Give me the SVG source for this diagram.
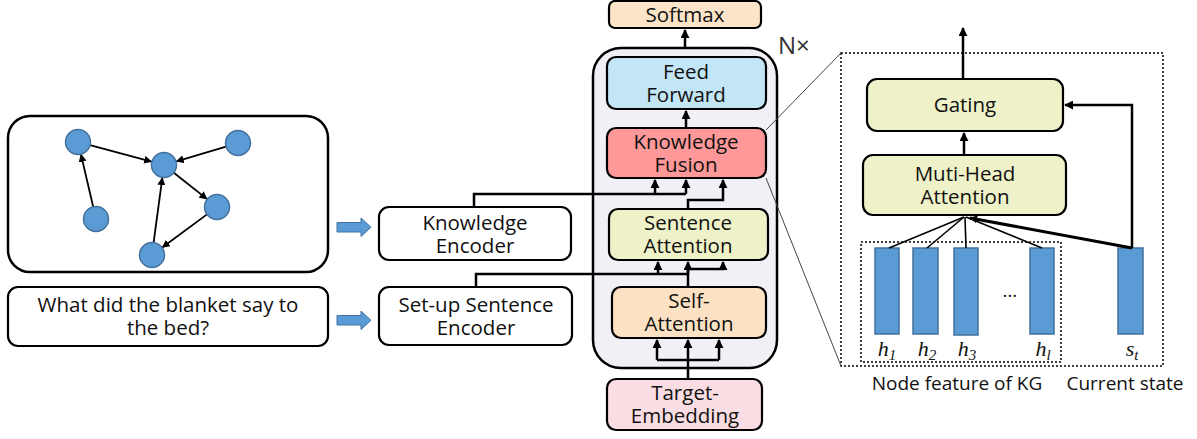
<svg xmlns="http://www.w3.org/2000/svg" width="1197" height="439" viewBox="0 0 1197 439">
<defs>
<marker id="ah" viewBox="0 0 10 10" refX="9" refY="5" markerWidth="9" markerHeight="9" markerUnits="userSpaceOnUse" orient="auto"><path d="M0,0 L10,5 L0,10 Z" fill="#000"/></marker>
<marker id="ahs" viewBox="0 0 10 10" refX="9" refY="5" markerWidth="8" markerHeight="8" markerUnits="userSpaceOnUse" orient="auto"><path d="M0,0 L10,5 L0,10 Z" fill="#000"/></marker>
<style>
.box{stroke:#000;stroke-width:2.2}
.t{font-family:"Open Sans","Noto Sans","DejaVu Sans",sans-serif;font-size:20.5px;fill:#111;text-anchor:middle}
.lab{font-family:"Open Sans","Noto Sans","DejaVu Sans",sans-serif;font-size:19px;fill:#111;text-anchor:middle}
.m{font-family:"Liberation Serif","DejaVu Serif",serif;font-style:italic;font-size:22px;fill:#111;text-anchor:middle}
.c{stroke:#000;stroke-width:2.5;fill:none}
.g{stroke:#000;stroke-width:1.8;fill:none}
.nd{fill:#5B9BD5;stroke:#41719C;stroke-width:1.5}
.bar{fill:#5B9BD5;stroke:#41719C;stroke-width:1.5}
.dot{fill:none;stroke:#000;stroke-width:1.5;stroke-dasharray:2 2}
.blk{fill:#5B9BD5;stroke:#41719C;stroke-width:1}
</style>
</defs>

<g id="encoder-stack">
<rect x="593" y="48" width="184" height="320" rx="28" fill="#F2F0F7" stroke="#000" stroke-width="2.5"/>
<text x="778" y="54" font-family="Open Sans, Noto Sans, sans-serif" font-size="24" fill="#333">N×</text>
</g>

<g id="kg-graph">
<rect x="8" y="116" width="320" height="156" rx="22" fill="#fff" stroke="#000" stroke-width="2.5"/>
<g id="kg-edges">
<line class="g" x1="90" y1="145.2" x2="151.4" y2="161.6" marker-end="url(#ahs)"/>
<line class="g" x1="226" y1="146.6" x2="176.5" y2="161.3" marker-end="url(#ahs)"/>
<line class="g" x1="173.8" y1="172.8" x2="206.8" y2="198.9" marker-end="url(#ahs)"/>
<line class="g" x1="207" y1="214.4" x2="162.5" y2="247.3" marker-end="url(#ahs)"/>
<line class="g" x1="153.6" y1="242.6" x2="162.3" y2="177.9" marker-end="url(#ahs)"/>
<line class="g" x1="93.2" y1="206.8" x2="81" y2="154.6" marker-end="url(#ahs)"/>
</g>
<circle class="nd" cx="78" cy="142" r="12.5"/>
<circle class="nd" cx="238" cy="143" r="12.5"/>
<circle class="nd" cx="164" cy="165" r="12.5"/>
<circle class="nd" cx="217" cy="207" r="12.5"/>
<circle class="nd" cx="96" cy="219" r="12.5"/>
<circle class="nd" cx="152" cy="255" r="12.5"/>
</g>

<g id="question">
<rect class="box" x="8" y="287" width="320" height="59" rx="10" fill="#fff"/>
<text class="t" x="168" y="312">What did the blanket say to</text>
<text class="t" x="168" y="335">the bed?</text>
</g>

<g id="block-arrows">
<path class="blk" d="M337,222.5 H361 V218 L371,227.3 L361,236.5 V232 H337 Z"/>
<path class="blk" d="M337,315.5 H361 V311 L371,320.3 L361,329.5 V325 H337 Z"/>
</g>

<g id="knowledge-encoder">
<rect class="box" x="379" y="207" width="192" height="53" rx="10" fill="#fff"/>
<text class="t" x="475" y="229.5">Knowledge</text>
<text class="t" x="475" y="252.5">Encoder</text>
</g>

<g id="setup-encoder">
<rect class="box" x="379" y="287" width="193" height="58" rx="10" fill="#fff"/>
<text class="t" x="476" y="311.5">Set-up Sentence</text>
<text class="t" x="476" y="334.5">Encoder</text>
</g>

<g id="softmax">
<rect class="box" x="609" y="1" width="152" height="27" rx="6" fill="#FCE4C8"/>
<text class="t" x="685" y="21.5">Softmax</text>
</g>

<g id="feed-forward">
<rect class="box" x="607" y="57" width="159" height="52" rx="9" fill="#C3E6F6"/>
<text class="t" x="686" y="78.5">Feed</text>
<text class="t" x="686" y="101.5">Forward</text>
</g>

<g id="knowledge-fusion">
<rect class="box" x="607" y="128" width="159" height="50" rx="9" fill="#FF9999"/>
<text class="t" x="686" y="149">Knowledge</text>
<text class="t" x="686" y="172">Fusion</text>
</g>

<g id="sentence-attention">
<rect class="box" x="609" y="209" width="159" height="51" rx="9" fill="#EFF1C8"/>
<text class="t" x="688" y="230">Sentence</text>
<text class="t" x="688" y="253">Attention</text>
</g>

<g id="self-attention">
<rect class="box" x="612" y="287" width="154" height="51" rx="9" fill="#FCE2C2"/>
<text class="t" x="689" y="308">Self-</text>
<text class="t" x="689" y="331">Attention</text>
</g>

<g id="target-embedding">
<rect class="box" x="607" y="379" width="155" height="51" rx="9" fill="#F9DDE2"/>
<text class="t" x="685" y="400">Target-</text>
<text class="t" x="685" y="423">Embedding</text>
</g>

<g id="fusion-detail">
<rect class="dot" x="841" y="53" width="322" height="313"/>
<rect class="dot" x="861" y="242" width="200" height="120"/>
</g>

<g id="gating">
<rect class="box" x="867" y="79" width="196" height="52" rx="10" fill="#EFF1C8"/>
<text class="t" x="965" y="112">Gating</text>
</g>

<g id="mha">
<rect class="box" x="863" y="155" width="203" height="60" rx="10" fill="#EFF1C8"/>
<text class="t" x="965" y="180.5">Muti-Head</text>
<text class="t" x="965" y="203.5">Attention</text>
</g>

<g id="bars">
<rect class="bar" x="875" y="248" width="24" height="86"/>
<rect class="bar" x="913" y="248" width="25" height="86"/>
<rect class="bar" x="954" y="248" width="24" height="87"/>
<rect class="bar" x="1030" y="248" width="24" height="86"/>
<rect class="bar" x="1118" y="248" width="25" height="86"/>
<text class="lab" x="1010" y="297">…</text>
<text class="m" x="887" y="356">h<tspan font-size="15" dy="4">1</tspan></text>
<text class="m" x="927" y="356">h<tspan font-size="15" dy="4">2</tspan></text>
<text class="m" x="967" y="356">h<tspan font-size="15" dy="4">3</tspan></text>
<text class="m" x="1043" y="356">h<tspan font-size="15" dy="4">l</tspan></text>
<text class="m" x="1132" y="356">s<tspan font-size="15" dy="4">t</tspan></text>
<text class="lab" x="957" y="390">Node feature of KG</text>
<text class="lab" x="1125" y="390">Current state</text>
</g>

<g id="connectors">
<line x1="766" y1="130" x2="841" y2="53" stroke="#444" stroke-width="1"/>
<line x1="766" y1="178" x2="841" y2="366" stroke="#444" stroke-width="1"/>
<path class="c" d="M685,48 V30" marker-end="url(#ah)"/>
<path class="c" d="M686,128 V111" marker-end="url(#ah)"/>
<path class="c" d="M474,207 V194 H686"/>
<path class="c" d="M655,194 V180" marker-end="url(#ah)"/>
<path class="c" d="M686,194 V180" marker-end="url(#ah)"/>
<path class="c" d="M688,209 V200 H723 V180" marker-end="url(#ah)"/>
<path class="c" d="M476,287 V274 H688"/>
<path class="c" d="M658,274 V262" marker-end="url(#ah)"/>
<path class="c" d="M688,274 V262" marker-end="url(#ah)"/>
<path class="c" d="M688,287 V269 H723 V262" marker-end="url(#ah)"/>
<path class="c" d="M688,379 V340" marker-end="url(#ah)"/>
<path class="c" d="M657,360 H719"/>
<path class="c" d="M657,360 V340" marker-end="url(#ah)"/>
<path class="c" d="M719,360 V340" marker-end="url(#ah)"/>
<path class="c" d="M963,79 V28" marker-end="url(#ah)"/>
<path class="c" d="M964,155 V133" marker-end="url(#ah)"/>
<path class="c" d="M1132,248 V105 H1065" marker-end="url(#ah)"/>
<line x1="889" y1="248" x2="964" y2="217" stroke="#000" stroke-width="1.6"/>
<line x1="927" y1="248" x2="964" y2="217" stroke="#000" stroke-width="1.6"/>
<line x1="966" y1="248" x2="965" y2="217" stroke="#000" stroke-width="1.6"/>
<line x1="1042" y1="248" x2="966" y2="217" stroke="#000" stroke-width="1.6"/>
<path d="M1132,248 L970,218" stroke="#000" stroke-width="3" fill="none" marker-end="url(#ahs)"/>
</g>
</svg>
